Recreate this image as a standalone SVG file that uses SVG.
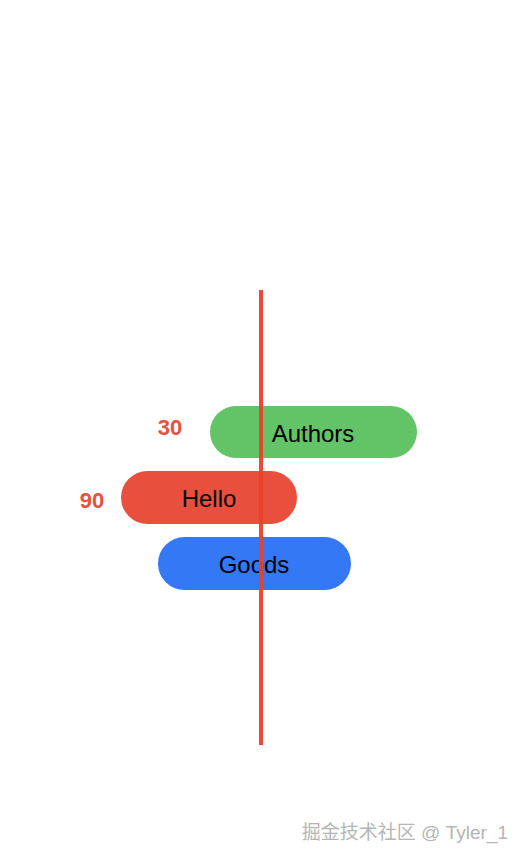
<svg xmlns="http://www.w3.org/2000/svg" width="526" height="862" viewBox="0 0 526 862">
<style>
.lbl{font-family:"Liberation Sans",Arial,sans-serif;font-size:24px;fill:#000;text-anchor:middle;dominant-baseline:central}
.num{font-family:"Liberation Sans",Arial,sans-serif;font-size:22px;font-weight:bold;fill:#E5533D;text-anchor:middle;dominant-baseline:central}
.wm{font-family:"Liberation Sans","Noto Sans CJK SC",sans-serif;font-size:19px;fill:#b5b5b5;text-anchor:end;dominant-baseline:central}
</style>
<rect width="526" height="862" fill="#fff"/>
<g id="authors">
<rect x="210" y="406" width="207" height="52" rx="26" fill="#62C466"/>
<text class="lbl" x="313" y="433">Authors</text>
</g>
<g id="hello">
<rect x="121" y="471" width="176" height="53" rx="26.5" fill="#E94F3D"/>
<text class="lbl" x="209" y="498">Hello</text>
</g>
<g id="goods">
<rect x="158" y="537" width="193" height="53" rx="26.5" fill="#3478F6"/>
<text class="lbl" x="254" y="564">Goods</text>
</g>
<g id="label30"><text class="num" x="170" y="427">30</text></g>
<g id="label90"><text class="num" x="92" y="500">90</text></g>
<g id="connectors">
<line x1="261" y1="290" x2="261" y2="745" stroke="#E8412C" stroke-width="4" stroke-opacity="0.95"/>
</g>
<text class="wm" x="508" y="832">掘金技术社区 @ Tyler_1</text>
</svg>
